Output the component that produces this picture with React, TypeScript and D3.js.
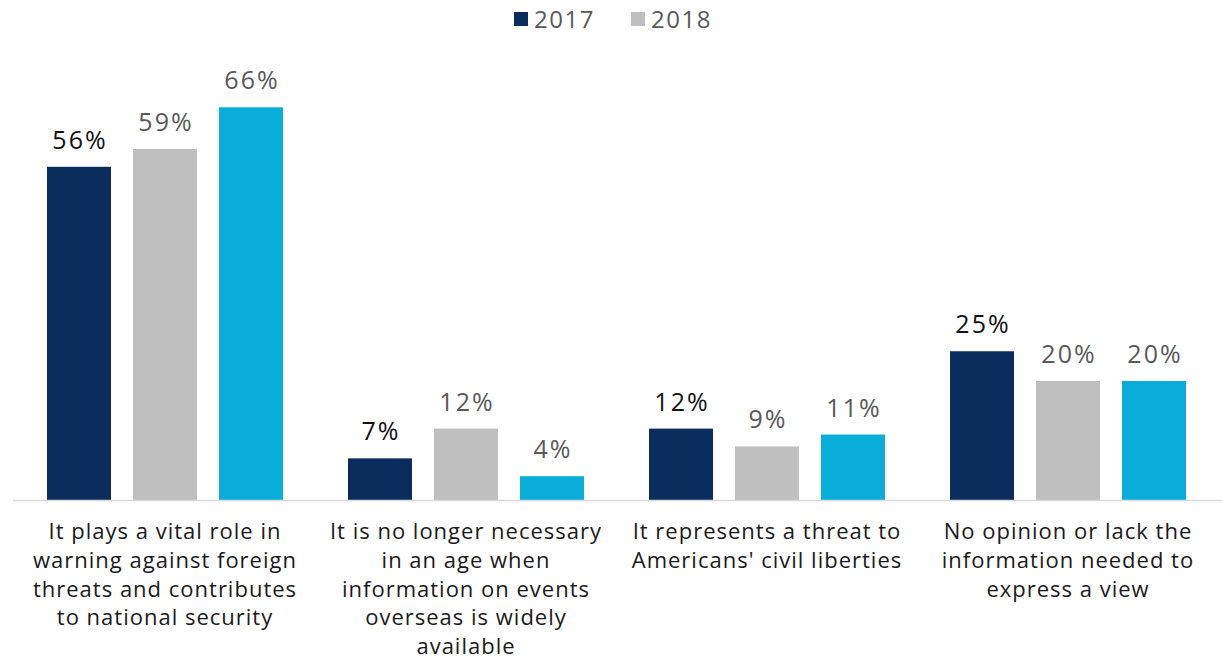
import React from 'react';
import * as d3 from 'd3';

const categories = [
  'It plays a vital role in warning against foreign threats and contributes to national security',
  'It is no longer necessary in an age when information on events overseas is widely available',
  "It represents a threat to Americans' civil liberties",
  'No opinion or lack the information needed to express a view',
];

// wrapped tick labels, as in the original
const categoryLines = [
  ['It plays a vital role in', 'warning against foreign', 'threats and contributes', 'to national security'],
  ['It is no longer necessary', 'in an age when', 'information on events', 'overseas is widely', 'available'],
  ['It represents a threat to', "Americans' civil liberties"],
  ['No opinion or lack the', 'information needed to', 'express a view'],
];

const seriesNames = ['2017', '2018', '2019'];
const values2017 = [56, 7, 12, 25];
const values2018 = [59, 12, 9, 20];
const values2019 = [66, 4, 11, 20];
const seriesValues = [values2017, values2018, values2019];

// legend only shows the first two series in the source image
const legendItems = ['2017', '2018'];

const colors = ['#0b2d5e', '#bfbfbf', '#08aed9'];
const labelColors = ['#111111', '#595959', '#595959'];

const W = 1222;
const H = 658;
const FONT = "'Open Sans', 'Noto Sans', sans-serif";

export default function App() {
  const baseY = 500;

  const x0 = d3.scaleBand<string>()
    .domain(categories)
    .range([14.5, 1218.5])
    .paddingInner(65 / 301)
    .paddingOuter(65 / 602);

  const x1 = d3.scaleBand<string>()
    .domain(seriesNames)
    .range([0, x0.bandwidth()])
    .paddingInner(22 / 86)
    .paddingOuter(0);

  const y = d3.scaleLinear().domain([0, 70]).range([baseY, baseY - 70 * 5.95]);

  const legendX = d3.scalePoint<string>().domain(legendItems).range([514, 631]);

  return (
    <svg width={W} height={H} style={{ position: 'absolute', left: 0, top: 0, background: '#fff' }} fontFamily={FONT}>
      {/* legend */}
      {legendItems.map((name, i) => (
        <g key={name} transform={`translate(${legendX(name)},0)`}>
          <rect x={0} y={12} width={14} height={14} fill={colors[i]} />
          <text x={20} y={28} fontSize={24} letterSpacing={1.5} fill="#595959">{name}</text>
        </g>
      ))}

      {/* bars */}
      {categories.map((cat, ci) => (
        <g key={cat} transform={`translate(${x0(cat)},0)`}>
          {seriesNames.map((s, si) => {
            const v = seriesValues[si][ci];
            const bx = x1(s)!;
            return (
              <g key={s}>
                <rect x={bx} y={y(v)} width={x1.bandwidth()} height={baseY - y(v)} fill={colors[si]} />
                <text
                  x={bx + x1.bandwidth() / 2 + 1}
                  y={y(v) - 18}
                  textAnchor="middle"
                  fontSize={25}
                  letterSpacing={2}
                  fill={labelColors[si]}
                >
                  {v}%
                </text>
              </g>
            );
          })}
        </g>
      ))}

      {/* axis line */}
      <line x1={13} x2={W} y1={baseY + 0.5} y2={baseY + 0.5} stroke="#d9d9d9" strokeWidth={1.5} />

      {/* category labels */}
      {categories.map((cat, ci) => (
        <text
          key={cat}
          x={x0(cat)! + x0.bandwidth() / 2}
          textAnchor="middle"
          fontSize={22}
          letterSpacing={1}
          fill="#1a1a1a"
        >
          {categoryLines[ci].map((line, li) => (
            <tspan key={li} x={x0(cat)! + x0.bandwidth() / 2} y={539 + li * 28.8}>{line}</tspan>
          ))}
        </text>
      ))}
    </svg>
  );
}
